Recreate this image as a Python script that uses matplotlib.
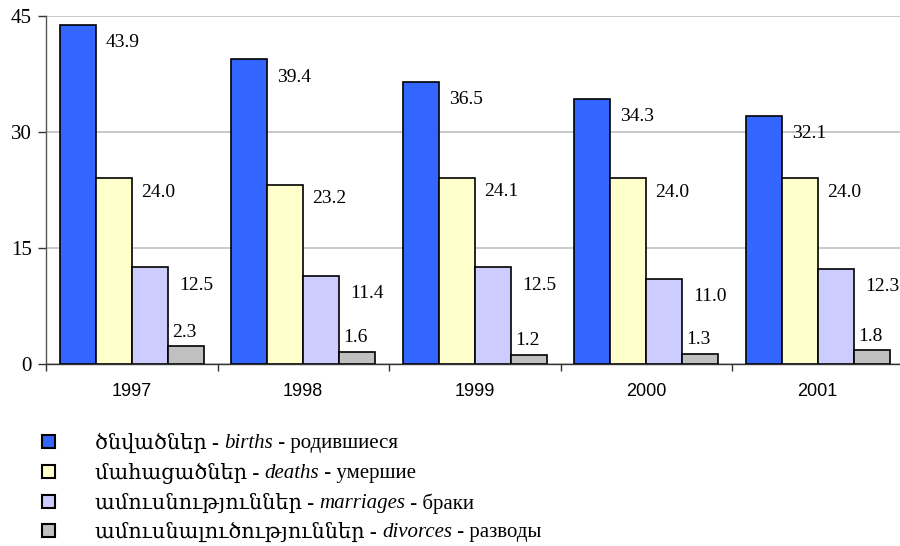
import numpy as np
import matplotlib
matplotlib.use("Agg")
import matplotlib.pyplot as plt
from matplotlib.patches import Rectangle

# data
years = ["1997", "1998", "1999", "2000", "2001"]
births = [43.9, 39.4, 36.5, 34.3, 32.1]
deaths = [24.0, 23.2, 24.1, 24.0, 24.0]
marriages = [12.5, 11.4, 12.5, 11.0, 12.3]
divorces = [2.3, 1.6, 1.2, 1.3, 1.8]

arm_labels = ["ծնվածներ", "մահացածներ", "ամուսնություններ", "ամուսնալուծություններ"]
eng_labels = ["births", "deaths", "marriages", "divorces"]
rus_labels = ["родившиеся", "умершие", "браки", "разводы"]

colors = ["#3366FF", "#FFFFCC", "#CCCCFF", "#C0C0C0"]
serif = ["Liberation Serif", "DejaVu Serif", "DejaVu Sans"]

W, H = 900, 546
fig = plt.figure(figsize=(W / 100, H / 100), dpi=100)
ax = fig.add_axes([46 / W, (H - 364) / H, 857.5 / W, 348 / H])

x = np.arange(len(years))
bw = 0.21
offsets = [-1.5 * bw, -0.5 * bw, 0.5 * bw, 1.5 * bw]
series = [births, deaths, marriages, divorces]

for i, vals in enumerate(series):
    bars = ax.bar(x + offsets[i], vals, bw, color=colors[i], edgecolor="black",
                  linewidth=1.2, zorder=3)
    for b, v in zip(bars, vals):
        if i == 3:
            # divorces: label sits above the bar
            ax.annotate(f"{v:.1f}", (b.get_x(), v), xytext=(4, 14),
                        textcoords="offset pixels", ha="left", va="center",
                        fontsize=14, family=serif)
        else:
            dx, dy = [(10, -18), (9, -14), (11, -18)][i]
            ax.annotate(f"{v:.1f}", (b.get_x() + b.get_width(), v), xytext=(dx, dy),
                        textcoords="offset pixels", ha="left", va="center",
                        fontsize=14, family=serif)

ax.set_xlim(-0.5, len(years) - 0.5)
ax.set_ylim(0, 45)
ax.set_yticks([0, 15, 30, 45])
ax.set_yticklabels(["0", "15", "30", "45"], family=serif, fontsize=15)
ax.yaxis.grid(True, color="#C0C0C0", linewidth=1.2, zorder=0)
ax.set_axisbelow(True)

# boundary ticks as major, year labels on minor ticks at the centres
ax.set_xticks(np.arange(len(years) + 1) - 0.5)
ax.set_xticklabels([])
ax.set_xticks(x, minor=True)
ax.set_xticklabels(years, minor=True, fontsize=13, family="Liberation Sans")
ax.tick_params(axis="x", which="minor", length=0, pad=14)
ax.tick_params(axis="x", which="major", length=5, width=1, color="#333333")
ax.tick_params(axis="y", length=6, width=1, color="#333333", pad=4)

for s in ["top", "right"]:
    ax.spines[s].set_visible(False)
ax.spines["left"].set_color("#555555")
ax.spines["bottom"].set_color("#333333")
ax.spines["left"].set_linewidth(1)
ax.spines["bottom"].set_linewidth(1)

# legend drawn by hand: square + three text pieces, middle one italic
row_y = [441, 471, 501, 530]
fig.canvas.draw()
renderer = fig.canvas.get_renderer()
for i in range(4):
    yc = row_y[i]
    fig.patches.append(Rectangle((42 / W, (H - yc - 6.5) / H), 13 / W, 13 / H,
                                 transform=fig.transFigure, facecolor=colors[i],
                                 edgecolor="black", linewidth=1.5))
    pieces = [(arm_labels[i] + " - ", "normal"), (eng_labels[i], "italic"),
              (" - " + rus_labels[i], "normal")]
    xp = 95
    for txt, style in pieces:
        t = fig.text(xp / W, (H - yc) / H, txt, fontsize=15, family=serif,
                     style=style, ha="left", va="center_baseline")
        bb = t.get_window_extent(renderer=renderer)
        xp = bb.x1

fig.savefig("out.png", dpi=100)
